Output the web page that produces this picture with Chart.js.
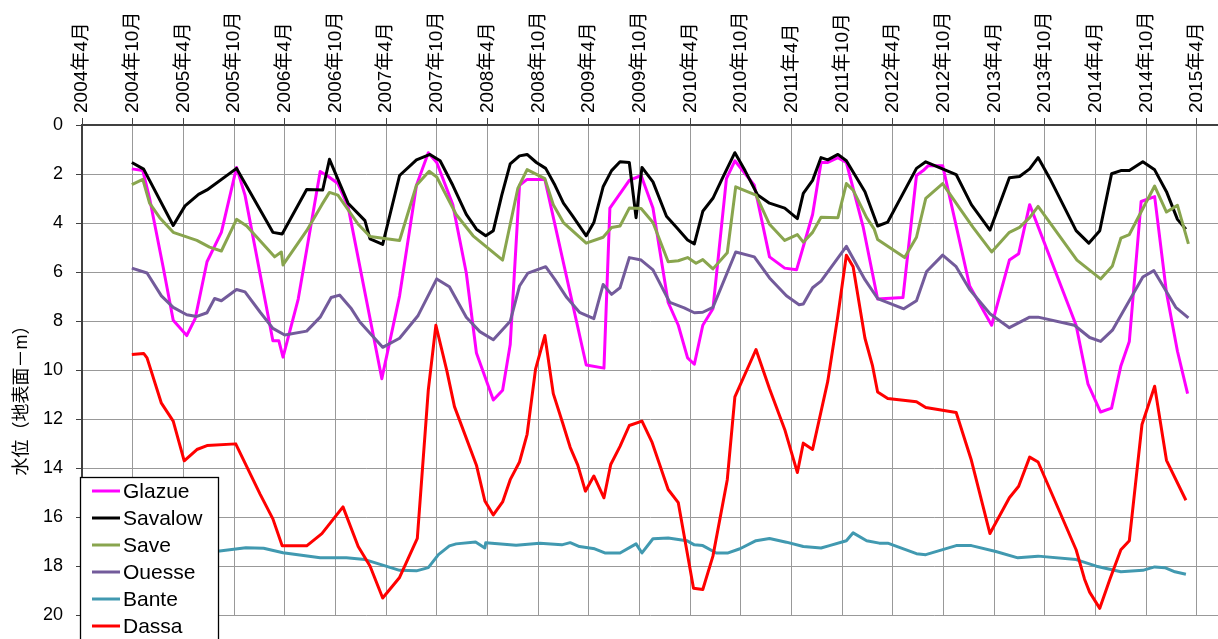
<!DOCTYPE html>
<html>
<head>
<meta charset="utf-8">
<script src="https://cdn.jsdelivr.net/npm/chart.js@4.4.1/dist/chart.umd.min.js"></script>
<style>
  html, body { margin: 0; padding: 0; background: #fff; }
  #wrap { width: 1218px; height: 639px; }
</style>
</head>
<body>
<div id="wrap"><canvas id="chart" width="1218" height="639"></canvas></div>
<script>
// x values are months counted from April 2004
const tickLabels = ['2004年4月', '2004年10月', '2005年4月', '2005年10月', '2006年4月', '2006年10月',
  '2007年4月', '2007年10月', '2008年4月', '2008年10月', '2009年4月', '2009年10月', '2010年4月',
  '2010年10月', '2011年4月', '2011年10月', '2012年4月', '2012年10月', '2013年4月', '2013年10月',
  '2014年4月', '2014年10月', '2015年4月'];
const seriesNames = ['Glazue', 'Savalow', 'Save', 'Ouesse', 'Bante', 'Dassa'];
const seriesColors = ['#ff00ff', '#000000', '#89a54e', '#735b9b', '#4199b0', '#ff0000'];
const yTitle = '水位（地表面－m）';

const glazue = [[5.9,1.79],[7.2,1.86],[8,2.99],[9.6,5.78],[10.8,7.97],[12.4,8.59],[13.4,7.9],[14.8,5.58],
  [16.5,4.38],[18.3,1.73],[19.3,2.86],[22.6,8.8],[23.3,8.8],[23.8,9.47],[25.6,7.1],[28.2,1.9],[29,2.06],
  [30.3,2.39],[31.5,3.32],[35.5,10.35],[37.6,6.97],[39.6,2.46],[41,1.13],[42,1.53],[43.9,3.25],[45.5,6.04],
  [46.7,9.3],[48.7,11.22],[49.8,10.82],[50.7,8.96],[51.8,2.46],[52.7,2.22],[54.8,2.22],[59.7,9.79],
  [61.8,9.92],[62.5,3.39],[64.8,2.26],[66.2,2.06],[67.6,3.39],[69.4,7.24],[70.6,8.17],[71.7,9.5],
  [72.5,9.76],[73.5,8.17],[74.7,7.5],[76.3,2.19],[77.3,1.46],[79.6,2.46],[81.4,5.38],[83.2,5.84],
  [84.6,5.91],[86.5,3.65],[87.5,1.53],[88.3,1.53],[89.5,1.33],[90.5,1.53],[92.5,4.18],[94.2,7.1],
  [97.2,7.04],[98.8,2.06],[99.6,1.86],[100.2,1.66],[101.9,1.66],[105.1,6.57],[107.7,8.17],[109.8,5.51],
  [110.9,5.25],[112.2,3.25],[117.7,8.17],[119.1,10.56],[120.6,11.71],[121.9,11.55],[123,9.83],[124,8.83],
  [125.4,3.12],[127,2.92],[128.4,6.84],[129.7,9.23],[130.9,10.96]];

const savalow = [[5.9,1.53],[7.3,1.8],[10.8,4.1],[12.2,3.3],[13.8,2.83],[14.8,2.65],[18.3,1.77],[19.5,2.5],
  [22.6,4.38],[23.7,4.45],[26.6,2.63],[28.5,2.65],[29.3,1.4],[31.5,3.19],[33.5,3.9],[34.1,4.65],[35.6,4.87],
  [37.6,2.06],[39.6,1.42],[41.2,1.2],[42.4,1.46],[43.9,2.46],[45.5,3.65],[46.7,4.25],[47.8,4.52],[48.7,4.31],
  [49.7,2.86],[50.7,1.59],[51.8,1.26],[52.7,1.2],[53.8,1.53],[54.9,1.77],[56,2.46],[57,3.19],[58.1,3.72],
  [59.7,4.52],[60.6,3.98],[61.7,2.52],[62.7,1.86],[63.7,1.5],[64.8,1.53],[65.6,3.78],[66.3,1.73],[67.6,2.32],
  [69.2,3.72],[70.4,4.18],[71.7,4.69],[72.5,4.85],[73.5,3.52],[74.7,2.99],[75.9,2.12],[77.3,1.13],[78.5,1.86],
  [80,2.86],[81.4,3.19],[83.2,3.39],[84.7,3.82],[85.4,2.79],[86.5,2.26],[87.5,1.33],[88.3,1.42],[89.5,1.2],
  [90.5,1.46],[92.7,2.72],[94.2,4.12],[95.4,3.96],[98.8,1.77],[99.9,1.5],[103.5,2.02],[105.3,3.25],
  [107.5,4.29],[109.8,2.15],[111,2.1],[112.2,1.79],[113.2,1.33],[114.6,2.19],[117.7,4.31],[119.2,4.82],
  [120.5,4.31],[121.9,1.99],[123,1.86],[124,1.86],[125.6,1.5],[127,1.83],[128.4,2.72],[129.7,3.85],[130.7,4.25]];

const save = [[5.9,2.43],[7.2,2.22],[8,3.19],[9.2,3.78],[10.8,4.38],[13.6,4.71],[15.1,4.98],[16.5,5.14],
  [18.3,3.85],[19.5,4.12],[22.8,5.38],[23.6,5.18],[23.8,5.71],[26.6,4.31],[28.4,3.25],[29.3,2.75],[30.3,2.86],
  [32.7,4.05],[34.1,4.55],[37.6,4.71],[39.6,2.46],[41.1,1.89],[42,2.12],[44.3,3.65],[46.3,4.52],[49.8,5.51],
  [51.6,2.59],[52.7,1.82],[54.8,2.19],[55.8,3.25],[57,3.98],[59.7,4.82],[61.7,4.58],[62.7,4.18],[63.7,4.12],
  [64.8,3.39],[66.2,3.41],[67.6,3.98],[69.4,5.58],[70.6,5.54],[71.7,5.41],[72.7,5.64],[73.5,5.49],[74.7,5.87],
  [76.4,5.21],[77.4,2.52],[79.8,2.86],[81.4,4.05],[83.2,4.71],[84.7,4.47],[85.4,4.78],[86.5,4.38],[87.5,3.76],
  [89.5,3.78],[90.5,2.39],[91.3,2.66],[92.9,3.78],[93.8,4.25],[94.2,4.67],[97.4,5.41],[98.8,4.58],[99.9,2.99],
  [101.9,2.39],[103.9,3.39],[105.5,4.18],[107.7,5.18],[109.8,4.38],[111,4.18],[112.2,3.78],[113.2,3.32],
  [117.8,5.51],[120.6,6.28],[122,5.75],[123,4.62],[124,4.47],[127,2.49],[128.4,3.55],[129.7,3.28],[131,4.85]];

const ouesse = [[5.9,5.84],[7.7,6.04],[9.4,6.97],[10.8,7.44],[12.4,7.74],[13.6,7.81],[14.8,7.66],[15.7,7.08],
  [16.5,7.17],[18.3,6.71],[19.3,6.81],[21.1,7.64],[22.6,8.3],[24,8.57],[26.6,8.41],[28.2,7.84],[29.5,7.04],
  [30.5,6.94],[31.9,7.5],[32.9,8.04],[35.6,9.07],[37.6,8.7],[39.8,7.77],[42,6.28],[43.5,6.6],[45.5,7.84],
  [47.1,8.43],[48.7,8.76],[50.7,8.01],[51.8,6.57],[52.8,6.04],[54.9,5.78],[56,6.31],[57.4,7.04],[58.9,7.64],
  [60.6,7.9],[61.7,6.51],[62.7,6.91],[63.7,6.64],[64.8,5.41],[66.2,5.51],[67.6,5.91],[69.6,7.24],[71.3,7.46],
  [72.5,7.66],[73.5,7.64],[74.7,7.44],[77.4,5.18],[79.6,5.38],[81.4,6.24],[83.4,6.97],[84.9,7.33],[85.4,7.3],
  [86.5,6.64],[87.5,6.37],[90.5,4.95],[92.7,6.31],[94.2,7.08],[97.3,7.5],[98.8,7.17],[100,5.98],[101.9,5.31],
  [103.5,5.78],[105.1,6.71],[107.5,7.7],[109.8,8.27],[112.2,7.84],[113.2,7.84],[117.5,8.17],[119.3,8.67],
  [120.6,8.83],[122,8.37],[125.6,6.2],[126.9,5.94],[129.5,7.44],[131,7.87]];

const bante = [[5.9,17.45],[10.8,17.35],[13.6,17.3],[16.3,17.38],[19.4,17.25],[21.5,17.27],[23.8,17.45],
  [28.2,17.66],[31.3,17.66],[33.5,17.73],[35.7,17.97],[37.6,18.17],[39.6,18.19],[41,18.06],[42.2,17.53],
  [43.5,17.17],[44.3,17.09],[46.6,17.01],[47.7,17.26],[47.8,17.04],[51.4,17.15],[54.2,17.06],[56.8,17.13],
  [57.8,17.04],[58.9,17.2],[60.7,17.29],[61.9,17.46],[63.7,17.46],[65.6,17.09],[66.3,17.46],[67.6,16.88],
  [69.4,16.85],[71.6,16.96],[72.5,17.13],[73.5,17.16],[75.1,17.46],[76.5,17.46],[77.9,17.29],[79.8,16.96],
  [81.4,16.87],[83.4,17.02],[85.4,17.2],[87.5,17.26],[88.5,17.16],[90.5,16.96],[91.3,16.64],[92.9,16.96],
  [94.4,17.06],[95.4,17.06],[98.8,17.49],[99.9,17.53],[103.5,17.16],[105.3,17.16],[108.2,17.4],[110.8,17.66],
  [113.2,17.59],[117.7,17.73],[120.1,18],[123,18.23],[125.6,18.17],[127,18.03],[128.2,18.06],[129.4,18.23],
  [130.7,18.33]];

const dassa = [[5.9,9.36],[7.3,9.32],[7.7,9.5],[9.4,11.35],[10.8,12.08],[12.1,13.7],[13.6,13.24],[14.8,13.08],
  [18.2,13.01],[21.1,15.07],[22.6,16.07],[23.7,17.17],[26.6,17.17],[28.4,16.67],[30.9,15.58],[32.7,17.2],
  [34.1,17.99],[35.6,19.3],[37.6,18.46],[39.7,16.87],[41,10.82],[41.9,8.17],[43.2,10.03],[44.1,11.49],
  [46.7,13.88],[47.7,15.34],[48.7,15.91],[49.8,15.38],[50.7,14.47],[51.8,13.75],[52.7,12.62],[53.7,9.96],
  [54.8,8.59],[55.8,10.96],[56.9,12.15],[57.8,13.15],[58.7,13.88],[59.6,14.94],[60.6,14.32],[61.8,15.21],
  [62.6,13.85],[63.7,13.11],[64.8,12.26],[66.3,12.08],[67.5,12.95],[69.4,14.87],[70.6,15.41],[72.4,18.9],
  [73.5,18.95],[74.7,17.59],[76.4,14.47],[77.3,11.09],[79.8,9.16],[81.4,10.76],[83.2,12.42],[84.7,14.18],
  [85.4,12.98],[86.5,13.24],[88.3,10.45],[89.5,7.77],[90.5,5.31],[91.3,5.78],[92.7,8.7],[93.6,9.83],
  [94.2,10.89],[95.4,11.16],[98.8,11.29],[99.9,11.53],[103.5,11.73],[105.3,13.68],[107.5,16.67],[109.8,15.21],
  [110.9,14.74],[112.2,13.55],[113.2,13.75],[117.7,17.33],[118.7,18.53],[119.3,19.06],[120.5,19.72],
  [121.7,18.53],[123,17.33],[124,16.96],[125.5,12.22],[127,10.66],[128.4,13.68],[130.7,15.31]];

const FONT = '"Liberation Sans", Arial, "Noto Sans CJK JP", sans-serif';
const seriesData = [glazue, savalow, save, ouesse, bante, dassa];

const datasets = seriesNames.map((name, i) => ({
  label: name,
  data: seriesData[i].map(([x, y]) => ({ x, y })),
  borderColor: seriesColors[i],
  backgroundColor: seriesColors[i],
  borderWidth: 3,
  pointRadius: 0,
  tension: 0,
  borderJoinStyle: 'round',
  order: seriesNames.length - i   // later series on top, like the original
}));

// boxed legend sitting over the lower left corner of the plot, plus the y title
const boxLegend = {
  id: 'boxLegend',
  afterDraw(chart) {
    const ctx = chart.ctx;
    ctx.save();
    ctx.fillStyle = '#fff';
    ctx.fillRect(80.5, 477.5, 138, 170);
    ctx.strokeStyle = '#000';
    ctx.lineWidth = 1.3;
    ctx.strokeRect(80.5, 477.5, 138, 170);
    ctx.font = '21px ' + FONT;
    ctx.textBaseline = 'middle';
    chart.data.datasets.forEach((ds, i) => {
      const y = 491 + i * 27;
      ctx.strokeStyle = ds.borderColor;
      ctx.lineWidth = 3;
      ctx.beginPath();
      ctx.moveTo(92, y);
      ctx.lineTo(120, y);
      ctx.stroke();
      ctx.fillStyle = '#000';
      ctx.fillText(ds.label, 123, y + 1);
    });

    ctx.translate(22, 396);
    ctx.rotate(-Math.PI / 2);
    ctx.font = '18px ' + FONT;
    ctx.textAlign = 'center';
    ctx.fillStyle = '#000';
    ctx.fillText(yTitle, 0, 0);
    ctx.restore();
  }
};

new Chart(document.getElementById('chart'), {
  type: 'line',
  data: { datasets },
  options: {
    responsive: false,
    animation: false,
    layout: { padding: { left: 0, right: 0, top: 0, bottom: 12 } },
    plugins: { legend: { display: false }, tooltip: { enabled: false } },
    scales: {
      x: {
        type: 'linear',
        position: 'top',
        min: 0,
        max: 134.5,
        afterBuildTicks: s => { s.ticks = tickLabels.map((_, i) => ({ value: i * 6 })); },
        afterFit: s => { s.height = 125; s.paddingLeft = 0; s.paddingRight = 0; },
        grid: { color: '#999', lineWidth: 1, tickLength: 7, tickColor: '#404040' },
        border: { color: '#404040', width: 2 },
        ticks: {
          autoSkip: false,
          minRotation: 90,
          maxRotation: 90,
          padding: 5,
          labelOffset: 23,
          color: '#000',
          font: { family: FONT, size: 19 },
          callback: v => tickLabels[Math.round(v / 6)]
        }
      },
      y: {
        reverse: true,
        min: 0,
        max: 20,
        afterFit: s => { s.width = 82; },
        grid: { color: '#999', lineWidth: 1, tickLength: 6, tickColor: '#404040' },
        border: { color: '#404040', width: 2 },
        ticks: { stepSize: 2, padding: 13, color: '#000', font: { family: FONT, size: 18 } }
      }
    }
  },
  plugins: [boxLegend]
});
</script>
</body>
</html>
